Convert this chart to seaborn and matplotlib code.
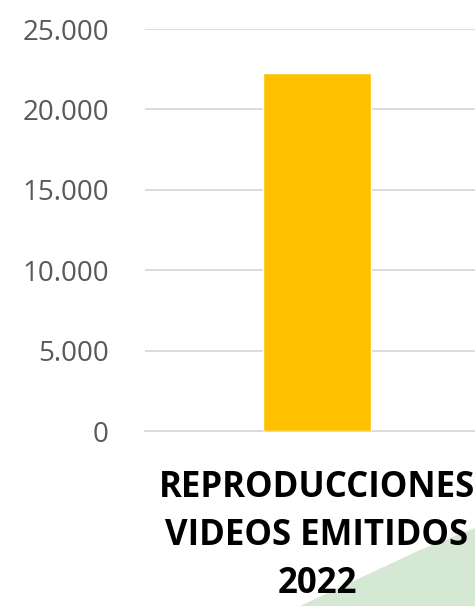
import matplotlib.pyplot as plt
import matplotlib.ticker as mticker
from matplotlib.patches import Polygon
import pandas as pd
import seaborn as sns

categorias = ['REPRODUCCIONES\nVIDEOS EMITIDOS\n2022']
reproducciones = [22250]
ticks_y = [0, 5000, 10000, 15000, 20000, 25000]

df = pd.DataFrame({'categoria': categorias, 'valor': reproducciones})

sns.set_style('white')
plt.rcParams['font.family'] = ['Open Sans', 'DejaVu Sans']

fig = plt.figure(figsize=(4.75, 6.06), dpi=100)

# decoracion verde de la diapositiva (esquina inferior derecha), detras de todo
fig.patches.append(Polygon([(300 / 475, 0), (420 / 475, 56 / 606), (475 / 475, 78 / 606), (1, 0)],
                           closed=True, transform=fig.transFigure, facecolor='#D5E8D4',
                           edgecolor='none', zorder=-5))

ax = fig.add_axes([145 / 475, 175 / 606, 344 / 475, 402 / 606])
ax.set_facecolor('none')
ax.set_zorder(2)
sns.barplot(data=df, x='categoria', y='valor', color='#FFC000', saturation=1,
            width=0.314, ax=ax, zorder=3)

ax.set_xlim(-0.5, 0.5)
ax.set_ylim(0, 25000)
ax.set_yticks(ticks_y)
ax.yaxis.set_major_formatter(mticker.FuncFormatter(lambda v, p: f'{int(v):,}'.replace(',', '.')))
ax.grid(axis='y', color='#D9D9D9', linewidth=1.3, zorder=0)
for s in ['left', 'right', 'top']:
    ax.spines[s].set_visible(False)
ax.spines['bottom'].set_color('#D9D9D9')
ax.spines['bottom'].set_linewidth(1.3)

ax.tick_params(axis='y', length=0, pad=26, labelsize=20, labelcolor='#595959')
ax.tick_params(axis='x', length=0, pad=28)
for lbl in ax.get_xticklabels():
    lbl.set_fontsize(25)
    lbl.set_fontweight('bold')
    lbl.set_color('black')
    lbl.set_linespacing(1.45)
ax.set_xlabel('')
ax.set_ylabel('')

fig.savefig('out.png', dpi=100)
plt.close(fig)
